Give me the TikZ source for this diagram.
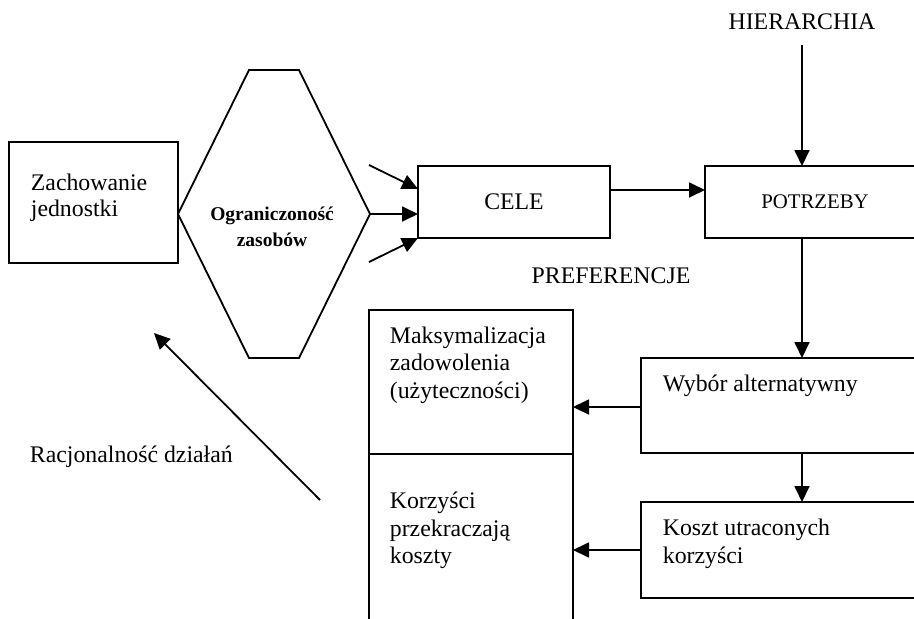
\documentclass[tikz,border=0pt]{standalone}
\usepackage{fontspec}
\setmainfont{Liberation Serif}
\usetikzlibrary{arrows.meta}
\begin{document}
\begin{tikzpicture}[x=1pt,y=-1pt, line width=1.8pt,
  box/.style={draw, rectangle, inner sep=0pt, outer sep=0pt, anchor=north west},
  lbl/.style={inner sep=0pt, anchor=base west, font=\fontsize{23.8}{27}\selectfont},
  clbl/.style={inner sep=0pt, anchor=base, font=\fontsize{23.8}{27}\selectfont},
  bl/.style={inner sep=0pt, anchor=base, font=\fontsize{19.5}{23}\selectfont\bfseries},
  arr/.style={-{Triangle[length=16pt,width=15pt]}}
]
\path[use as bounding box] (0,0) rectangle (914,619);
\clip (0,0) rectangle (914,619);

% boxes
\node[box, minimum width=169pt, minimum height=121pt] (zach) at (9,142) {};
\node[box, minimum width=192pt, minimum height=72pt, font=\fontsize{23.8}{27}\selectfont] (cele) at (418,166) {CELE};
\node[box, minimum width=220pt, minimum height=72pt, font=\fontsize{20.8}{24}\selectfont] (potr) at (705,166) {POTRZEBY};
\node[box, minimum width=320pt, minimum height=95pt] (wyb) at (641,358) {};
\node[box, minimum width=320pt, minimum height=96pt] (koszt) at (641,502) {};
\node[box, minimum width=204pt, minimum height=144pt] (maks) at (369,310) {};
\node[box, minimum width=204pt, minimum height=190pt] (korz) at (369,454) {};

% hexagon
\draw[line join=miter] (178,214) -- (249,70) -- (299,70) -- (370,214) -- (299,358) -- (249,358) -- cycle;
\coordinate (hexR) at (370,214);

% texts
\node[lbl] (z1) at (30,190) {Zachowanie};
\node[lbl] (z2) at (30,216) {jednostki};
\node[bl] (o1) at (272,220) {Ograniczoność};
\node[bl] (o2) at (272,246) {zasobów};
\node[clbl] (hier) at (802,29) {HIERARCHIA};
\node[clbl] (pref) at (611,283) {PREFERENCJE};
\node[lbl] (m1) at (389,343) {Maksymalizacja};
\node[lbl] (m2) at (389,370) {zadowolenia};
\node[lbl] (m3) at (389,398) {(użyteczności)};
\node[lbl] (k1) at (389,508) {Korzyści};
\node[lbl] (k2) at (389,536) {przekraczają};
\node[lbl] (k3) at (389,563) {koszty};
\node[lbl] (w1) at (662,391) {Wybór alternatywny};
\node[lbl] (ko1) at (662,535) {Koszt utraconych};
\node[lbl] (ko2) at (662,563) {korzyści};
\node[lbl] (rac) at (29,462) {Racjonalność działań};

% free ends
\coordinate (inTop) at (369,165);
\coordinate (inBot) at (369,262);
\coordinate (hierEnd) at (802,45);
\coordinate (racStart) at (320,500);
\coordinate (racEnd) at (154,333);

% arrows
\draw[arr] (inTop) -- (418,189);
\draw[arr] (hexR) -- (cele.west |- hexR);
\draw[arr] (inBot) -- (cele.south west);
\draw[arr] (cele.east |- 0,190) -- (potr.west |- 0,190);
\draw[arr] (hierEnd) -- (potr.north -| hierEnd);
\draw[arr] (potr.south -| hierEnd) -- (wyb.north -| hierEnd);
\draw[arr] (wyb.west |- 0,407) -- (maks.east |- 0,407);
\draw[arr] (wyb.south -| hierEnd) -- (koszt.north -| hierEnd);
\draw[arr] (koszt.west |- 0,550) -- (korz.east |- 0,550);
\draw[arr] (racStart) -- (racEnd);
\end{tikzpicture}
\end{document}
